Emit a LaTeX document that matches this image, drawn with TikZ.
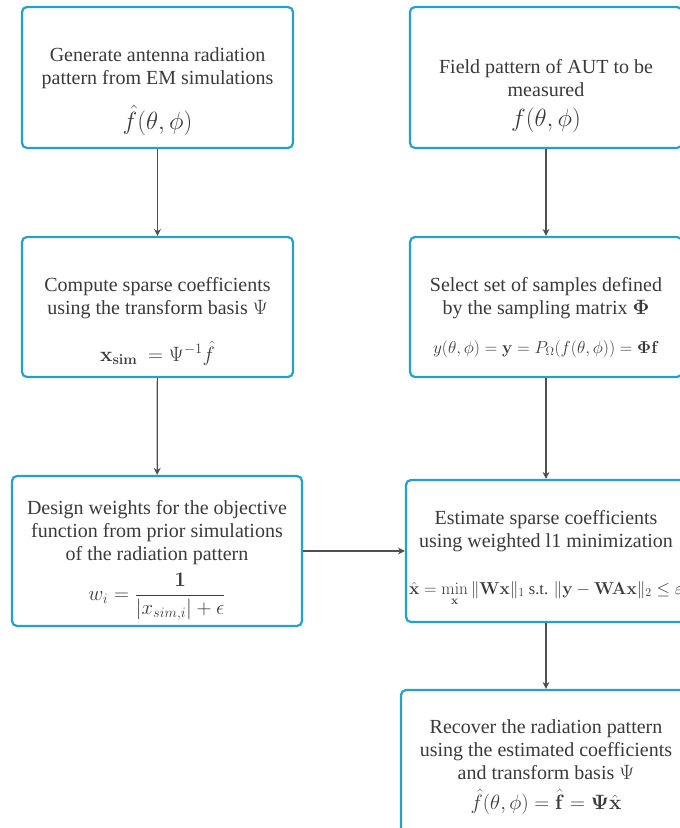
\documentclass[tikz,border=0pt]{standalone}
\usepackage{amsmath, amssymb, bm}
\usepackage[no-math]{fontspec}
\setmainfont{Liberation Serif}
\usetikzlibrary{arrows.meta, positioning}

\definecolor{boxline}{HTML}{23A1C9}
\definecolor{flowgray}{HTML}{505050}
\definecolor{txtgray}{HTML}{3A3A3A}

\begin{document}
\begin{tikzpicture}[
		x=1pt, y=-1pt,
		% Style for the process boxes
		stage/.style={
			draw=boxline, line width=2.2pt, rounded corners=5pt, fill=white
		},
		% Style for the text inside the boxes
		stage text/.style={
			align=center, text=txtgray, inner sep=0pt,
			font=\fontsize{20}{23}\selectfont
		},
		% Style for the connecting arrows
		flow/.style={->, >={Stealth[length=7pt, width=7pt]}, draw=flowgray, line width=1.2pt}
		]
		
		\useasboundingbox (0,0) rectangle (680,828);
		\clip (0,0) rectangle (680,828);
		
		% ==============================================================================
		% LEFT COLUMN: SIMULATION
		% ==============================================================================
		\node[stage, minimum width=271pt, minimum height=141pt] (gen) at (157.5,77.5) {};
		\node[stage text] (gen-txt) at (157.5,91.5) {
			Generate antenna radiation\\
			pattern from EM simulations\\[16pt]
			{\fontsize{23}{26}\selectfont $\hat{f}(\theta,\phi)$}
		};
		
		\node[stage, minimum width=271pt, minimum height=140pt] (coef) at (157.5,307) {};
		\node[stage text] (coef-txt) at (157.5,321.5) {
			Compute sparse coefficients\\
			using the transform basis $\Psi$\\[21pt]
			$\mathbf{x}_{\mathbf{sim}}\ = \Psi^{-1}\hat{f}$
		};
		
		\node[stage, minimum width=290pt, minimum height=150pt] (wts) at (157,551) {};
		\node[stage text] (wts-txt) at (157,560.5) {
			Design weights for the objective\\
			function from prior simulations\\
			of the radiation pattern\\[7pt]
			$w_i = \dfrac{\mathbf{1}}{|x_{sim,i}|+\epsilon}$
		};
		
		% ==============================================================================
		% RIGHT COLUMN: MEASUREMENT
		% ==============================================================================
		\node[stage, minimum width=272pt, minimum height=141pt] (aut) at (546,77.5) {};
		\node[stage text] (aut-txt) at (546,96.5) {
			Field pattern of AUT to be\\
			measured\\[7pt]
			{\fontsize{23}{26}\selectfont $f(\theta,\phi)$}
		};
		
		\node[stage, minimum width=272pt, minimum height=140pt] (samp) at (546,307) {};
		\node[stage text] (samp-txt) at (546,317.5) {
			Select set of samples defined\\
			by the sampling matrix $\bm{\Phi}$\\[16pt]
			{\fontsize{17.5}{20}\selectfont $y(\theta,\phi)=\mathbf{y}=P_{\Omega}(f(\theta,\phi))=\bm{\Phi}\mathbf{f}$}
		};
		
		\node[stage, minimum width=280pt, minimum height=142pt] (est) at (546,551) {};
		\node[stage text] (est-txt) at (546,558) {
			Estimate sparse coefficients\\
			using weighted l1 minimization\\[24pt]
			{\fontsize{16.5}{19}\selectfont $\hat{\mathbf{x}}=\min\limits_{\mathbf{x}}\|\mathbf{W}\mathbf{x}\|_1 \text{ s.t. } \|\mathbf{y}-\mathbf{W}\mathbf{A}\mathbf{x}\|_2\leq\varepsilon$}
		};
		
		\node[stage, minimum width=290pt, minimum height=150pt] (rec) at (546,765) {};
		\node[stage text] (rec-txt) at (546,767) {
			Recover the radiation pattern\\
			using the estimated coefficients\\
			and transform basis $\Psi$\\[7pt]
			{\fontsize{22}{25}\selectfont $\hat{f}(\theta,\phi)=\hat{\mathbf{f}}=\bm{\Psi}\hat{\mathbf{x}}$}
		};
		
		% --- Arrows ---
		\draw[flow] (gen) -- (coef);
		\draw[flow] (coef) -- (wts);
		\draw[flow] (aut) -- (samp);
		\draw[flow] (samp) -- (est);
		\draw[flow] (wts) -- (est);
		\draw[flow] (est) -- (rec);
		
	\end{tikzpicture}
\end{document}
